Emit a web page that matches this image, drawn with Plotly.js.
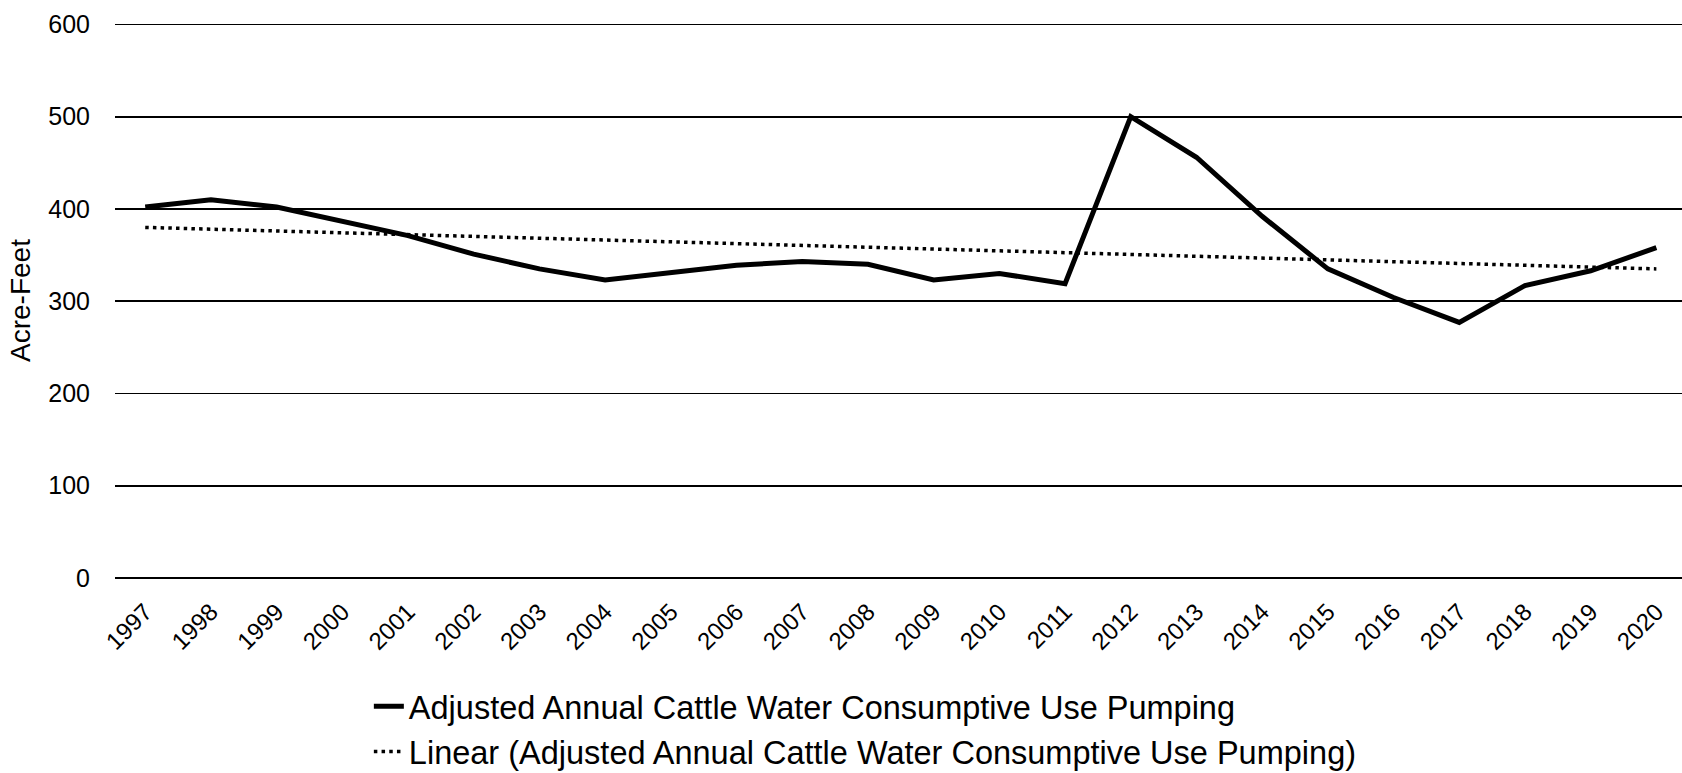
<!DOCTYPE html>
<html>
<head>
<meta charset="utf-8">
<script src="https://cdn.plot.ly/plotly-3.0.1.min.js"></script>
<style>
html,body{margin:0;padding:0;background:#fff;}
#chart{width:1682px;height:773px;}
</style>
</head>
<body>
<div id="chart"></div>
<script>
const years = ["1997","1998","1999","2000","2001","2002","2003","2004","2005","2006","2007","2008","2009","2010","2011","2012","2013","2014","2015","2016","2017","2018","2019","2020"];
const pumping = [402,410,402,387,371,351,335,323,331,339,343,340,323,330,319,500,456,392,335,304,277,317,333,358];
const trendYears = ["1997","2020"];
const trendValues = [380,335];
const yTicks = [0,100,200,300,400,500,600];
const seriesName = "Adjusted Annual Cattle Water Consumptive Use Pumping";
const trendName = "Linear (Adjusted Annual Cattle Water Consumptive Use Pumping)";

const traces = [
  {x: years, y: pumping, type: 'scatter', mode: 'lines', name: seriesName,
   line: {color: '#000', width: 5}},
  {x: trendYears, y: trendValues, type: 'scatter', mode: 'lines', name: trendName,
   line: {color: '#000', width: 3.5, dash: '3.5px,4.2px'}}
];

const layout = {
  width: 1682, height: 773,
  margin: {l: 115, r: 0, t: 23, b: 195, autoexpand: false},
  paper_bgcolor: '#fff', plot_bgcolor: '#fff',
  font: {family: 'Liberation Sans, Arial, sans-serif', color: '#000', size: 24},
  showlegend: true,
  xaxis: {
    type: 'category', categoryorder: 'array', categoryarray: years,
    range: [-0.46, 23.39], tickangle: -45, showgrid: false, zeroline: false,
    showline: false, ticks: '', ticklabelstandoff: 14,
    tickfont: {size: 24}
  },
  yaxis: {
    range: [0, 601.5], tickvals: yTicks, showgrid: true, gridcolor: '#000', gridwidth: 1.7,
    zeroline: true, zerolinecolor: '#000', zerolinewidth: 1.7, showline: false,
    ticks: '', ticklabelstandoff: 24, tickfont: {size: 25},
    title: {text: 'Acre-Feet', font: {size: 28}, standoff: 9}
  },
  legend: {
    orientation: 'v', x: 0.162, xanchor: 'left',
    yref: 'container', y: 0.122, yanchor: 'top',
    font: {size: 32.5}, tracegroupgap: 0,
    bgcolor: 'rgba(0,0,0,0)'
  }
};

Plotly.newPlot('chart', traces, layout, {displayModeBar: false, staticPlot: true});
</script>
</body>
</html>
